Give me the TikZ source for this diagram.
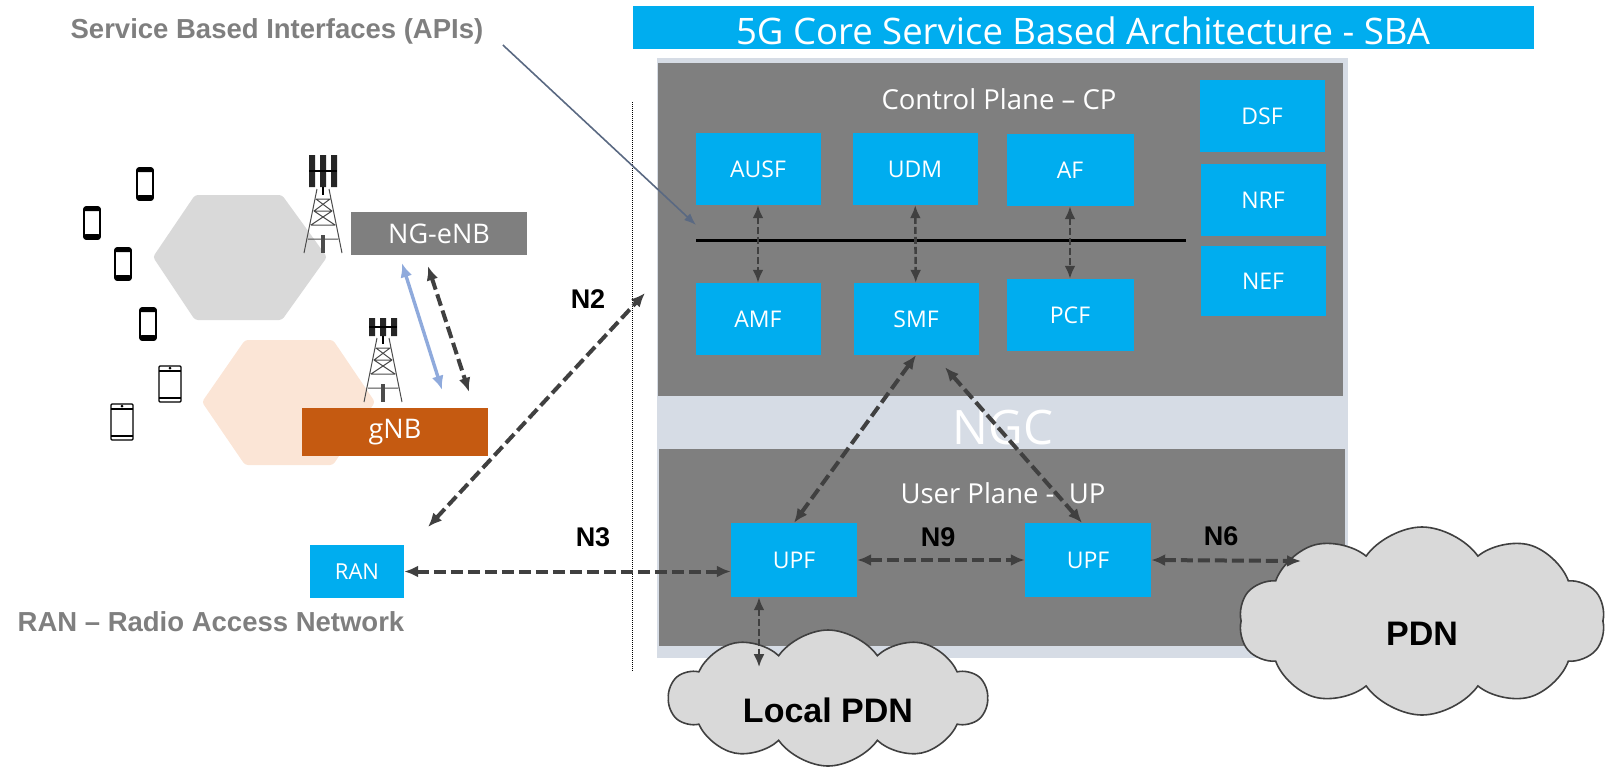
\documentclass[tikz,border=0pt]{standalone}
\usepackage{fontspec}
\setmainfont{Open Sans}
\newfontfamily\labelfont{Liberation Sans}
\usetikzlibrary{shapes.symbols,shapes.geometric,arrows.meta}
\definecolor{nfblue}{RGB}{0,173,239}
\definecolor{planegray}{RGB}{127,127,127}
\definecolor{ngcband}{RGB}{214,220,229}
\definecolor{arrowgray}{RGB}{64,64,64}
\definecolor{gnborange}{RGB}{197,90,17}
\definecolor{gnbpeach}{RGB}{251,229,214}
\definecolor{cellgray}{RGB}{217,217,217}
\definecolor{linkblue}{RGB}{143,170,220}
\definecolor{notegray}{RGB}{127,127,127}
\definecolor{apislate}{RGB}{90,105,130}
\tikzset{
  nf/.style={fill=nfblue,text=white,minimum width=125pt,minimum height=72pt,inner sep=0pt,font=\fontsize{23}{23}\selectfont},
  ranbox/.style={fill=#1,text=white,inner sep=0pt,font=\fontsize{27}{27}\selectfont},
  planetext/.style={text=white,font=\fontsize{27.5}{27.5}\selectfont},
  ilabel/.style={font=\labelfont\bfseries\fontsize{27}{27}\selectfont,text=black},
  note/.style={font=\labelfont\bfseries\fontsize{27.5}{27.5}\selectfont,text=notegray},
  pdncloud/.style={cloud,cloud puffs=10,cloud puff arc=110,cloud ignores aspect,draw=arrowgray,line width=1.6pt,fill=cellgray,inner sep=0pt,text=black,font=\labelfont\bfseries\fontsize{34}{34}\selectfont},
  iface/.style={{Latex[length=14pt,width=12pt]}-{Latex[length=14pt,width=12pt]},draw=arrowgray,line width=4pt,dash pattern=on 12pt off 5pt},
  sbilink/.style={{Latex[length=13pt,width=11pt]}-{Latex[length=13pt,width=11pt]},draw=arrowgray,line width=2.6pt,dash pattern=on 7pt off 3pt},
  phone/.pic={
    \draw[line width=1.6pt,rounded corners=2pt,fill=white] (-8,-16) rectangle (8,16);
    \fill[rounded corners=2pt] (-8,11) rectangle (8,16);
    \fill[rounded corners=1pt] (-8,-16) rectangle (8,-12);
  },
  tablet/.pic={
    \draw[line width=1.2pt,rounded corners=1pt,fill=white] (-11,-18) rectangle (11,18);
    \draw[line width=1.2pt] (-11,-13) -- (11,-13) (-11,14) -- (11,14);
    \fill (0,-16) circle (1.5pt);
  },
  tower/.pic={
    \fill[black!85] (-14,0) rectangle (-8,#1) (-3,0) rectangle (3,#1) (8,0) rectangle (14,#1);
    \draw[line width=1.2pt] (-14,#1/2) -- (14,#1/2) (0,#1) -- (0,#1+8);
    \draw[black!70,line width=1pt] (-6,#1+2) -- (-19,#1+66) (6,#1+2) -- (19,#1+66)
      (-7,#1+12) -- (7,#1+12) (-9,#1+24) -- (9,#1+24) (-12,#1+38) -- (12,#1+38) (-15,#1+52) -- (15,#1+52)
      (-7,#1+12) -- (9,#1+24) (7,#1+12) -- (-9,#1+24) (-9,#1+24) -- (12,#1+38) (9,#1+24) -- (-12,#1+38);
    \fill[black!70] (-2,#1+48) rectangle (2,#1+66);
  }
}
\begin{document}
\begin{tikzpicture}[x=1pt,y=-1pt]
  \useasboundingbox (0,0) rectangle (1605,766);

  \fill[nfblue] (633,6) rectangle (1534,49);
  \node[text=white,font=\fontsize{36.5}{36.5}\selectfont] (title) at (1083,31) {5G Core Service Based Architecture - SBA};

  \fill[ngcband] (657,58) rectangle (1348,658);
  \fill[planegray] (658,63) rectangle (1343,396);
  \fill[planegray] (659,449) rectangle (1345,646);
  \node[planetext] (cplabel) at (999,99) {Control Plane – CP};
  \node[text=white,font=\fontsize{47.5}{47.5}\selectfont] (ngclabel) at (1003,428) {NGC};
  \node[planetext] (uplabel) at (1003,493) {User Plane -\ \ UP};

  \fill[cellgray,rounded corners=3pt] (153,257) -- (195,195) -- (282,195) -- (327,257) -- (282,320) -- (195,320) -- cycle;
  \fill[gnbpeach,rounded corners=3pt] (202,402) -- (245,340) -- (333,340) -- (375,402) -- (333,465) -- (245,465) -- cycle;
  \foreach \px/\py in {145/184,92/223,123/264,148/324} \pic at (\px,\py) {phone};
  \foreach \px/\py in {170/384,122/422} \pic at (\px,\py) {tablet};
  \pic at (323,155) {tower=32};
  \pic at (383,318) {tower=18};

  \node[ranbox=planegray,minimum width=176pt,minimum height=43pt] (ngenb) at (439,233.5) {NG-eNB};
  \node[ranbox=gnborange,minimum width=186pt,minimum height=48pt] (gnb) at (395,432) {gNB};
  \node[nf,minimum width=94pt,minimum height=53pt,font=\fontsize{22}{22}\selectfont] (ran) at (357,571.5) {RAN};

  \node[nf] (ausf) at (758,169) {AUSF};
  \node[nf] (udm) at (915,169) {UDM};
  \node[nf,minimum width=127pt] (af) at (1070,170) {AF};
  \node[nf] (dsf) at (1262,116) {DSF};
  \node[nf] (nrf) at (1263,200) {NRF};
  \node[nf,minimum height=70pt] (nef) at (1263,281) {NEF};
  \node[nf] (amf) at (758,319) {AMF};
  \node[nf] (smf) at (916,319) {SMF};
  \node[nf,minimum width=127pt] (pcf) at (1070,315) {PCF};
  \node[nf,minimum width=126pt,minimum height=74pt] (upfa) at (794,560) {UPF};
  \node[nf,minimum width=126pt,minimum height=74pt] (upfb) at (1088,560) {UPF};

  \coordinate (busl) at (696,240);
  \coordinate (busr) at (1186,240);
  \coordinate (corein) at (645,293);
  \coordinate (ranout) at (428,527);
  \coordinate (pdnin) at (1301,561);
  \draw[line width=3pt] (busl) -- (busr);
  \draw[sbilink] (ausf) -- (amf);
  \draw[sbilink] (udm) -- (smf);
  \draw[sbilink] (af) -- (pcf);

  \node[pdncloud,minimum width=318pt,minimum height=136pt] (localpdn) at (828,698) {\raisebox{-24pt}[0pt][0pt]{Local PDN}};
  \node[pdncloud,minimum width=366pt,minimum height=188pt] (pdn) at (1422,621) {\raisebox{-24pt}[0pt][0pt]{PDN}};

  \draw[densely dotted,line width=1pt] (632,102) -- (632,672);
  \draw[iface] (ranout) -- (corein);
  \draw[iface] (ran.east) -- (ran.east -| upfa.west);
  \draw[iface] (upfa.east) -- (upfb.west);
  \draw[iface] (upfb.east) -- (pdnin);
  \draw[iface] (smf.south) -- (upfa.north);
  \draw[iface] ([xshift=29pt,yshift=-12pt]smf.south) -- ([xshift=-6pt]upfb.north);
  \draw[sbilink] ([xshift=-35pt]upfa.south) -- ([xshift=-69pt,yshift=-38pt]localpdn.north);
  \draw[{Latex[length=14pt,width=12pt]}-{Latex[length=14pt,width=12pt]},draw=linkblue,line width=3.4pt] ([xshift=-37pt,yshift=-8pt]ngenb.south) -- ([xshift=47pt,yshift=18pt]gnb.north);
  \draw[iface] ([xshift=-11pt,yshift=-11pt]ngenb.south) -- ([xshift=74pt,yshift=16pt]gnb.north);

  \node[note] (sbi) at (277,31) {Service Based Interfaces (APIs)};
  \draw[-{Latex[length=12pt,width=9pt]},draw=apislate,line width=1.6pt] ([xshift=16pt,yshift=-14pt]sbi.east) -- ([yshift=15pt]busl);
  \node[note] (ranname) at (211,622) {RAN – Radio Access Network};
  \node[ilabel] (ntwo) at (588,299) {N2};
  \node[ilabel] (nthree) at (593,537) {N3};
  \node[ilabel] (nnine) at (938,537) {N9};
  \node[ilabel] (nsix) at (1221,536) {N6};
\end{tikzpicture}
\end{document}
